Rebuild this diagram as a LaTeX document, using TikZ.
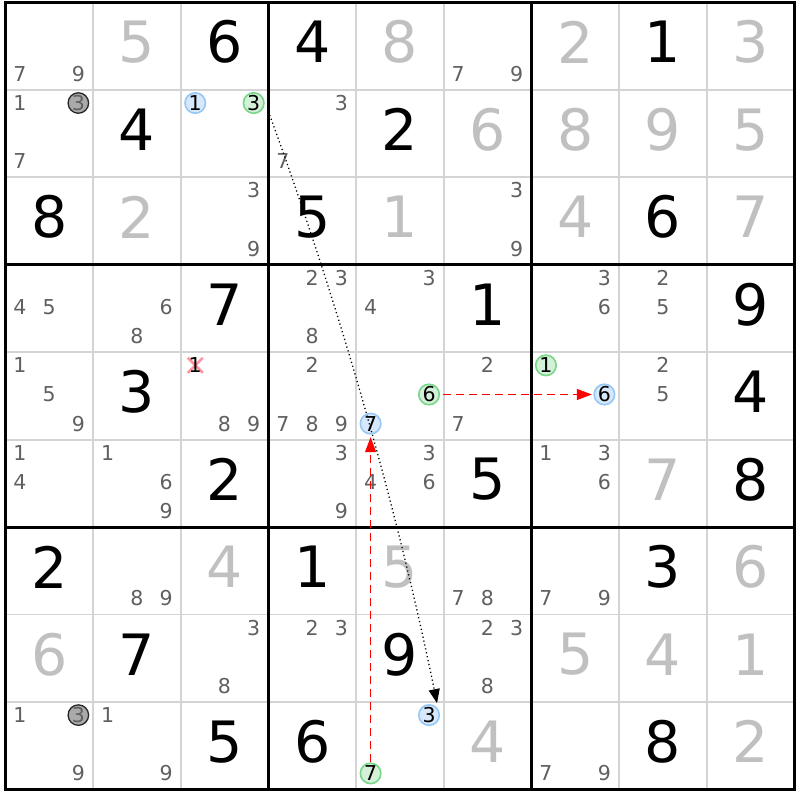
\documentclass[tikz,border=0pt]{standalone}
\usepackage{fontspec}
\setmainfont{DejaVu Sans}
\usetikzlibrary{arrows.meta,calc}
\definecolor{solvedgray}{RGB}{192,192,192}
\definecolor{candgray}{RGB}{96,96,96}
\definecolor{thingrid}{RGB}{212,212,212}
\definecolor{bluefill}{RGB}{214,232,250}
\definecolor{blueline}{RGB}{150,200,245}
\definecolor{greenfill}{RGB}{212,240,216}
\definecolor{greenline}{RGB}{120,215,135}
\definecolor{grayfill}{RGB}{170,170,170}
\definecolor{crosscol}{RGB}{255,128,140}
\definecolor{chainred}{RGB}{255,0,0}
\newcommand\candxy[3]{%
  \pgfmathsetmacro\candX{5.3+(#2-1)*87.67+87.67*(2*mod(#3-1,3)+1)/6}%
  \pgfmathsetmacro\candY{2.5+(#1-1)*87.44+87.44*(2*int((#3-1)/3)+1)/6-1.5}}
\begin{document}
\begin{tikzpicture}[x=1pt,y=-1pt,
  given/.style={font=\fontsize{57}{60}\selectfont, text=black, inner sep=0pt},
  solved/.style={given, text=solvedgray},
  cand/.style={font=\fontsize{20.5}{22}\selectfont, text=candgray, inner sep=0pt},
  circbase/.style={circle, minimum size=20.5pt, inner sep=0pt, font=\fontsize{20.5}{22}\selectfont},
  bluecirc/.style={circbase, draw=blueline, fill=bluefill, line width=1.6pt, text=black},
  greencirc/.style={circbase, draw=greenline, fill=greenfill, line width=1.6pt, text=black},
  graycirc/.style={circbase, draw=black!85, fill=grayfill, line width=1.3pt, text=candgray},
  thinline/.style={draw=thingrid, line width=1.8pt},
  thickline/.style={draw=black, line width=3pt},
  crossline/.style={draw=crosscol, line width=2.6pt, opacity=0.85},
  redchain/.style={draw=chainred, line width=1.3pt, dash pattern=on 8pt off 5pt, -{Triangle[length=15pt,width=11pt]}},
  dotchain/.style={draw=black, line width=1.3pt, dash pattern=on 1.2pt off 2.8pt, -{Triangle[length=14pt,width=11pt]}}
]
\useasboundingbox (0,0) rectangle (800,800);
\fill[white] (0,0) rectangle (800,800);
% grid
\foreach \i in {1,2,4,5,7,8}{
  \draw[thinline] ({5.3+\i*87.67},2.5) -- ({5.3+\i*87.67},789.5);
  \draw[thinline] (5.3,{2.5+\i*87.44}) -- (794.3,{2.5+\i*87.44});
}
\foreach \i in {3,6}{
  \draw[thickline] ({5.3+\i*87.67},2.5) -- ({5.3+\i*87.67},789.5);
  \draw[thickline] (5.3,{2.5+\i*87.44}) -- (794.3,{2.5+\i*87.44});
}
\draw[thickline] (5.3,2.5) rectangle (794.3,789.5);
% givens
\foreach \ri/\ci/\di in {1/3/6,1/4/4,1/8/1,2/2/4,2/5/2,3/1/8,3/4/5,3/8/6,4/3/7,4/6/1,4/9/9,5/2/3,5/9/4,6/3/2,6/6/5,6/9/8,7/1/2,7/4/1,7/8/3,8/2/7,8/5/9,9/3/5,9/4/6,9/8/8}{
  \node[given] (v\ri\ci) at ({5.3+(\ci-0.5)*87.67},{2.5+(\ri-0.5)*87.44-4}) {\di};
}
% solved
\foreach \ri/\ci/\di in {1/2/5,1/5/8,1/7/2,1/9/3,2/6/6,2/7/8,2/8/9,2/9/5,3/2/2,3/5/1,3/7/4,3/9/7,6/8/7,7/3/4,7/5/5,7/9/6,8/1/6,8/7/5,8/8/4,8/9/1,9/6/4,9/9/2}{
  \node[solved] (v\ri\ci) at ({5.3+(\ci-0.5)*87.67},{2.5+(\ri-0.5)*87.44-4}) {\di};
}
% candidates
\foreach \ri/\ci/\di in {1/1/7,1/1/9,1/6/7,1/6/9,
  2/1/1,2/1/7,2/4/3,2/4/7,
  3/3/3,3/3/9,3/6/3,3/6/9,
  4/1/4,4/1/5,4/2/6,4/2/8,4/4/2,4/4/3,4/4/8,4/5/3,4/5/4,4/7/3,4/7/6,4/8/2,4/8/5,
  5/1/1,5/1/5,5/1/9,5/3/8,5/3/9,5/4/2,5/4/7,5/4/8,5/4/9,5/6/2,5/6/7,5/8/2,5/8/5,
  6/1/1,6/1/4,6/2/1,6/2/6,6/2/9,6/4/3,6/4/9,6/5/3,6/5/4,6/5/6,6/7/1,6/7/3,6/7/6,
  7/2/8,7/2/9,7/6/7,7/6/8,7/7/7,7/7/9,
  8/3/3,8/3/8,8/4/2,8/4/3,8/6/2,8/6/3,8/6/8,
  9/1/1,9/1/9,9/2/1,9/2/9,9/7/7,9/7/9}{
  \candxy{\ri}{\ci}{\di}
  \node[cand] (k\ri\ci\di) at (\candX,\candY) {\di};
}
% eliminated candidate
\candxy{5}{3}{1}
\draw[crossline] (\candX-7.5,\candY-7.5) -- (\candX+7.5,\candY+7.5);
\draw[crossline] (\candX-7.5,\candY+7.5) -- (\candX+7.5,\candY-7.5);
\node[cand, text=black] (k531) at (\candX,\candY) {1};
% highlighted candidates
\foreach \ri/\ci/\di in {2/1/3,9/1/3}{
  \candxy{\ri}{\ci}{\di}
  \node[graycirc] (q\ri\ci\di) at (\candX,\candY) {\di};
}
\foreach \ri/\ci/\di in {2/3/1,5/5/7,5/7/6,9/5/3}{
  \candxy{\ri}{\ci}{\di}
  \node[bluecirc] (b\ri\ci\di) at (\candX,\candY) {\di};
}
\foreach \ri/\ci/\di in {2/3/3,5/5/6,5/7/1,9/5/7}{
  \candxy{\ri}{\ci}{\di}
  \node[greencirc] (g\ri\ci\di) at (\candX,\candY) {\di};
}
% chain links
\draw[dotchain] ($(g233)+(16,12)$) .. controls (340,308) and (396,504) .. ($(b953)+(8,-12)$);
\draw[redchain, shorten >=2.5pt] (g957) -- (b557);
\draw[redchain, shorten <=3pt, shorten >=1.5pt] (g556) -- (b576);
\end{tikzpicture}
\end{document}
